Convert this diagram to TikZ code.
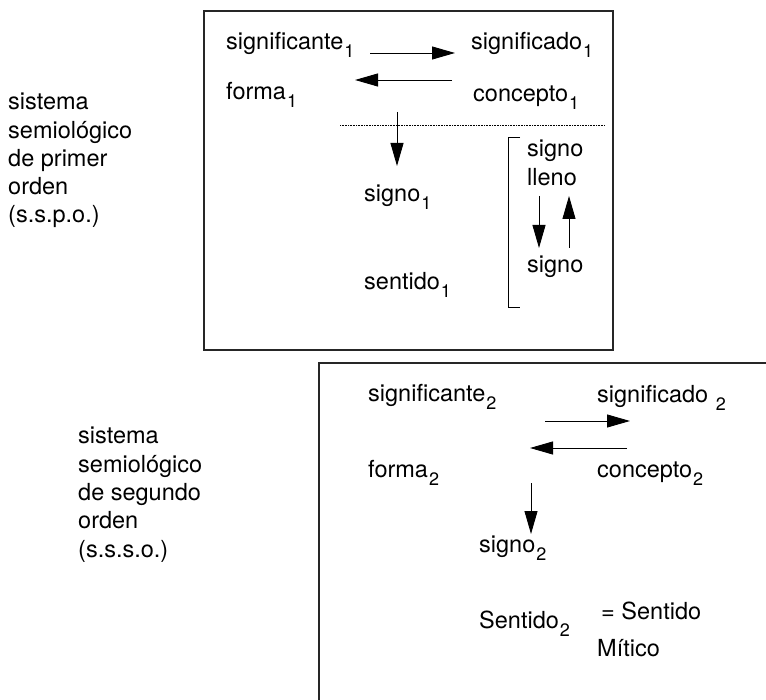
\documentclass[tikz,border=0pt]{standalone}
\usepackage{fontspec}
\setmainfont{TeX Gyre Heros}
\usetikzlibrary{arrows.meta}

\newcommand{\idx}[1]{\kern1pt\raisebox{-8pt}{\fontsize{18}{18}\selectfont #1}}

\tikzset{
  term/.style={anchor=base west, inner sep=0pt},
  label/.style={anchor=base west, inner sep=0pt, align=left},
  arr/.style={-{Triangle[length=23pt,width=13pt]}, line width=0.9pt},
  frame/.style={line width=1.2pt, black!85},
}

\begin{document}
\begin{tikzpicture}[x=1pt, y=-1pt, font=\fontsize{23.5}{28.3}\selectfont]
  \useasboundingbox (0,0) rectangle (766,700);

  % sistema de primer orden
  \draw[frame] (204,11) rectangle (613,350);
  \node[label] (lab1) at (8,223) {sistema\\semiológico\\de primer\\orden\\(s.s.p.o.)};

  \node[term] (sa1)  at (226,50)  {significante\idx{1}};
  \node[term] (so1)  at (471,50)  {significado\idx{1}};
  \node[term] (fo1)  at (226,100) {forma\idx{1}};
  \node[term] (co1)  at (473,102) {concepto\idx{1}};
  \node[term] (si1)  at (364,202) {signo\idx{1}};
  \node[term] (se1)  at (364,290) {sentido\idx{1}};
  \node[term] (sl1)  at (527,157) {signo};
  \node[term] (ll1)  at (527,186) {lleno};
  \node[term] (sv1)  at (527,273) {signo};

  \coordinate (r1s) at (370,53);  \coordinate (r1e) at (455,53);
  \coordinate (l1s) at (452,80);  \coordinate (l1e) at (355,80);
  \coordinate (d1s) at (397,112); \coordinate (d1e) at (397,166);
  \coordinate (b1s) at (539,196); \coordinate (b1e) at (539,248);
  \coordinate (u1s) at (569,248); \coordinate (u1e) at (569,196);

  \draw[arr] (r1s) -- (r1e);
  \draw[arr] (l1s) -- (l1e);
  \draw[arr] (d1s) -- (d1e);
  \draw[arr] (b1s) -- (b1e);
  \draw[arr] (u1s) -- (u1e);

  \draw[line width=0.8pt, dash pattern=on 0.8pt off 0.8pt] (340,125) -- (605,125);
  \draw[line width=0.9pt] (520,137) -| (508,307) -- (520,307);

  % sistema de segundo orden
  \draw[frame] (319,700) -- (319,363) -- (766,363);
  \node[label] (lab2) at (78,557) {sistema\\semiológico\\de segundo\\orden\\(s.s.s.o.)};

  \node[term] (sa2) at (368,402) {significante\idx{2}};
  \node[term] (so2) at (597,403) {significado \idx{2}};
  \node[term] (fo2) at (368,478) {forma\idx{2}};
  \node[term] (co2) at (597,478) {concepto\idx{2}};
  \node[term] (si2) at (479,552) {signo\idx{2}};
  \node[term] (se2) at (479,628) {Sentido\idx{2}};
  \node[term] (sm2) at (601,619) {= Sentido};
  \node[term] (mi2) at (597,656) {Mítico};

  \coordinate (r2s) at (545,421); \coordinate (r2e) at (630,421);
  \coordinate (l2s) at (627,448); \coordinate (l2e) at (530,448);
  \coordinate (d2s) at (531,483); \coordinate (d2e) at (531,534);

  \draw[arr] (r2s) -- (r2e);
  \draw[arr] (l2s) -- (l2e);
  \draw[arr] (d2s) -- (d2e);
\end{tikzpicture}
\end{document}
